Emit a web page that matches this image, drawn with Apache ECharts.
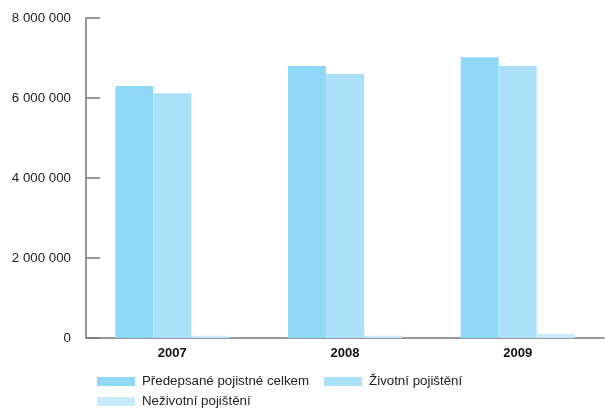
<!DOCTYPE html>
<html>
<head>
<meta charset="utf-8">
<script src="https://cdn.jsdelivr.net/npm/echarts@6/dist/echarts.min.js"></script>
<style>
html,body{margin:0;padding:0;background:#fff;}
#chart{width:605px;height:408px;}
</style>
</head>
<body>
<div id="chart"></div>
<script>
var categories = ['2007', '2008', '2009'];
var seriesNames = ['Předepsané pojistné celkem', 'Životní pojištění', 'Neživotní pojištění'];
var celkem = [6300000, 6800000, 7020000];
var zivotni = [6120000, 6600000, 6800000];
var nezivotni = [55000, 55000, 100000];
var yTicks = [0, 2000000, 4000000, 6000000, 8000000];
var colors = ['#8fd8f6', '#abe0fb', '#c6eaf9'];

function fmt(v){ return String(v).replace(/\B(?=(\d{3})+(?!\d))/g, ' '); }

var chart = echarts.init(document.getElementById('chart'));
var font = 'Liberation Sans, Arial, sans-serif';
var legendText = {fontSize: 13.3, color: '#222', fontFamily: font, padding: [0, 0, 0, 2]};
chart.setOption({
  animation: false,
  textStyle: {fontFamily: font},
  grid: {left: 86, right: 1, top: 18, bottom: 70, containLabel: false},
  legend: [
    {data: [seriesNames[0], seriesNames[1]], left: 97, top: 375, padding: 0, itemWidth: 38, itemHeight: 9, itemGap: 15,
     icon: 'rect', textStyle: legendText},
    {data: [seriesNames[2]], left: 97, top: 395, padding: 0, itemWidth: 38, itemHeight: 9,
     icon: 'rect', textStyle: legendText}
  ],
  xAxis: {
    type: 'category', data: categories,
    axisLine: {lineStyle: {color: '#777', width: 1.5}},
    axisTick: {show: false},
    axisLabel: {fontWeight: 'bold', fontSize: 13, color: '#111', margin: 9}
  },
  yAxis: {
    type: 'value', min: yTicks[0], max: yTicks[yTicks.length-1], interval: 2000000,
    axisLine: {show: true, lineStyle: {color: '#777', width: 1.5}},
    axisTick: {show: true, inside: true, length: 14, lineStyle: {color: '#777', width: 1.5}},
    splitLine: {show: false},
    axisLabel: {fontSize: 13.3, color: '#222', margin: 15, formatter: fmt}
  },
  series: [
    {name: seriesNames[0], type: 'bar', data: celkem, barWidth: 38, barGap: '0%', itemStyle: {color: colors[0]}},
    {name: seriesNames[1], type: 'bar', data: zivotni, barWidth: 38, barGap: '0%', itemStyle: {color: colors[1]}},
    {name: seriesNames[2], type: 'bar', data: nezivotni, barWidth: 38, barGap: '0%', itemStyle: {color: colors[2]}}
  ]
});
</script>
</body>
</html>
